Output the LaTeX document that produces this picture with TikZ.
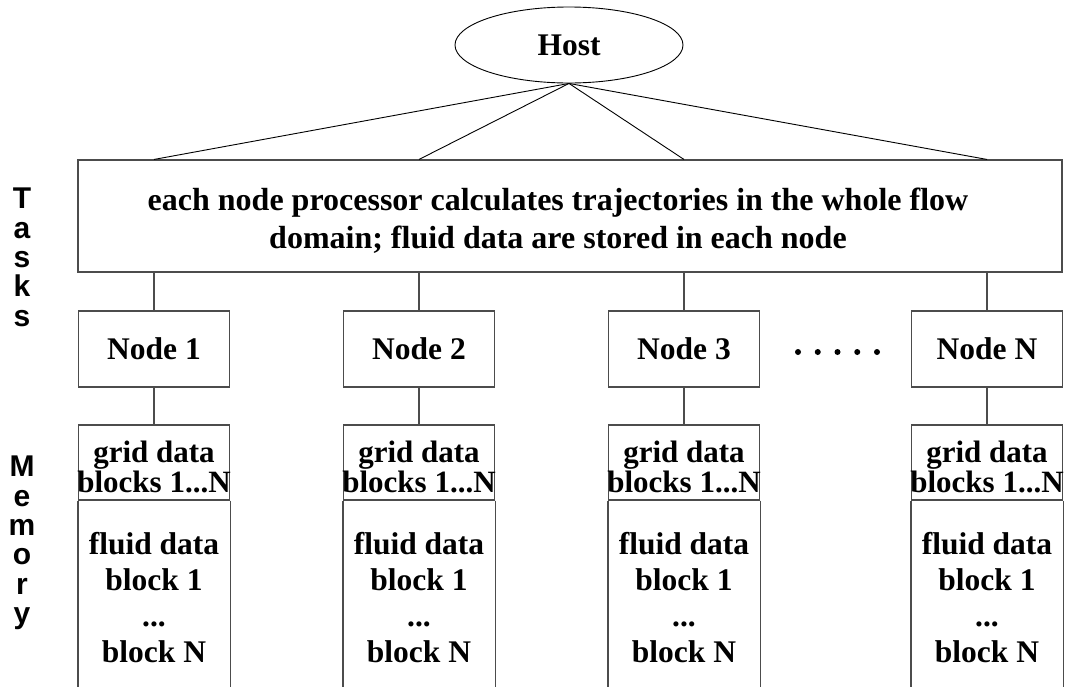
\documentclass[tikz,border=0pt]{standalone}
\usepackage{fontspec}
\setmainfont{Liberation Serif}
\newfontfamily\sidefont{Liberation Sans}
\usetikzlibrary{shapes.geometric, positioning}

\newcommand{\boxfont}{\fontsize{31.5}{30}\selectfont\bfseries}
\tikzset{
  box/.style={draw=black!70, line width=1.1pt, minimum width=151pt, inner sep=0pt},
  link/.style={draw=black!70, line width=1.1pt},
  spoke/.style={draw=black, line width=0.9pt},
  side/.style={font=\sidefont\fontsize{30}{29.3}\selectfont\bfseries, align=center, inner sep=0pt}
}

\begin{document}
\begin{tikzpicture}[x=1pt, y=-1pt]
    \useasboundingbox (0,0) rectangle (1066,686);
    % host and the common task
    \node [draw, line width=0.9pt, ellipse, minimum width=228pt, minimum height=76pt, inner sep=0pt, font=\boxfont] (host) at (569,45) {Host};
    \node [box, minimum width=984pt, minimum height=112pt] (job) at (570,216) {};
    \node [font=\fontsize{32}{38}\selectfont\bfseries, align=center, anchor=north, inner sep=0pt] (jobtext) at (558,188)
        {each node processor calculates trajectories in the whole flow\\domain; fluid data are stored in each node};
    % side labels
    \node [side, anchor=north] (tasks) at (22,188) {T\\a\\s\\k\\s};
    \node [side, anchor=north] (memory) at (22,456) {M\\e\\m\\o\\r\\y};
    % one column per node: processor, grid data, fluid data
    \foreach \x/\k in {154/1, 419/2, 684/3, 987/N} {
        \node [box, minimum height=76pt, font=\boxfont] (node\k) at (\x,349) {Node \k};
        \node [box, minimum height=75pt] (grid\k) at (\x,462.5) {};
        \node [font=\fontsize{31}{30}\selectfont\bfseries, align=center, anchor=north, inner sep=0pt] (gridtext\k) at (\x,441) {grid data\\blocks 1...N};
        \node [font=\fontsize{31.5}{36}\selectfont\bfseries, align=center, anchor=north, inner sep=0pt] (fluid\k) at (\x,532)
            {fluid data\\block 1\\...\\block N};
        \draw [link] (grid\k.south west) -- ++(0,190);
        \draw [link] (grid\k.south east) -- ++(0,190);
        \draw [link] (job.south -| node\k) -- (node\k);
        \draw [link] (node\k) -- (grid\k);
        \draw [spoke] (host.south) -- (job.north -| node\k);
    }
    % dots between node 3 and node N
    \foreach \i in {0,...,4}
        \fill (798+19.75*\i,352) circle (3pt);
\end{tikzpicture}
\end{document}
